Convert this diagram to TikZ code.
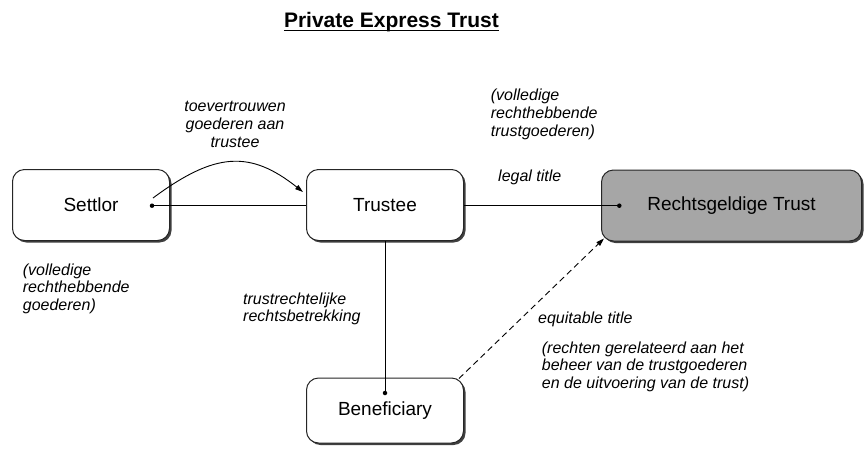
\documentclass[tikz,border=0pt]{standalone}
\usepackage{fontspec}
\setmainfont{Liberation Sans}
\usetikzlibrary{shadows,arrows.meta,calc}
\definecolor{trustgray}{RGB}{166,166,166}
\newcommand{\mylines}[1]{\begin{tabular}[t]{@{}l@{}}#1\end{tabular}}
\newcommand{\mylinesc}[1]{\begin{tabular}[t]{@{}c@{}}#1\end{tabular}}
\begin{document}
\begin{tikzpicture}[x=1pt,y=-1pt,
  box/.style={draw=black!85, line width=1pt, rounded corners=12pt, align=center, inner sep=0pt,
     font=\fontsize{19}{22}\selectfont,
     drop shadow={shadow xshift=2pt, shadow yshift=-2pt, opacity=1, fill=black!75}},
  lbl/.style={font=\fontsize{16}{17.7}\selectfont\itshape, inner sep=0pt, anchor=base west},
  conn/.style={line width=0.9pt, draw=black},
  arr/.style={-{Triangle[length=8pt,width=5pt]}},
  dot/.style={circle, fill=black, inner sep=0pt, minimum size=4.5pt}
]
\useasboundingbox (0,0) rectangle (865,448);
\fill[white] (0,0) rectangle (865,448);

% title
\node[font=\fontsize{21}{25}\selectfont\bfseries, anchor=base east, inner sep=0pt] (title) at (499,27) {Private Express Trust};
\draw[line width=1.8pt] ([yshift=-3.5pt]title.base west) -- ([yshift=-3.5pt]title.base east);

% boxes
\node[box, fill=white, minimum width=157pt, minimum height=71pt] (settlor) at (91,205) {Settlor};
\node[box, fill=white, minimum width=157pt, minimum height=71pt] (trustee) at (385,205) {Trustee};
\node[box, fill=trustgray, minimum width=260pt, minimum height=71pt] (trust) at (731.5,205.5) {Rechtsgeldige Trust};
\node[box, fill=white, minimum width=157pt, minimum height=65pt] (benef) at (385,410.5) {\raisebox{-5pt}{Beneficiary}};

% dots
\node[dot] (sdot) at (152,205.7) {};
\node[dot] (tdot) at (619.3,205.7) {};
\node[dot] (bdot) at (385,393) {};
\coordinate (cstart) at (153,198);
\coordinate (cend) at ($(trustee.west)+(-3,-13)$);

% connectors
\draw[conn] (sdot.center) -- (sdot.center -| trustee.west);
\draw[conn, arr] (cstart) .. controls (215,152) and (250,150) .. (cend);
\draw[conn] (tdot.center -| trustee.east) -- (tdot.center);
\draw[conn] (trustee.south) -- (bdot.center);
\draw[conn, dash pattern=on 6pt off 4pt, arr] ($(benef.north east)+(-5,1)$) -- ($(trust.south west)+(3,-3)$);

% labels
\node[lbl, anchor=base] (toev) at (235,111.6) {\mylinesc{toevertrouwen\\goederen aan\\trustee}};
\node[lbl] (vol1) at (490.7,100.7) {\mylines{(volledige\\rechthebbende\\trustgoederen)}};
\node[lbl] (legal) at (498,181.7) {legal title};
\node[lbl] (vol2) at (22.7,275) {\mylines{(volledige\\rechthebbende\\goederen)}};
\node[lbl] (trr) at (243,304) {\mylines{trustrechtelijke\\rechtsbetrekking}};
\node[lbl] (eq) at (538,323) {equitable title};
\node[lbl] (rech) at (541.7,353) {\mylines{(rechten gerelateerd aan het\\beheer van de trustgoederen\\en de uitvoering van de trust)}};
\end{tikzpicture}
\end{document}
